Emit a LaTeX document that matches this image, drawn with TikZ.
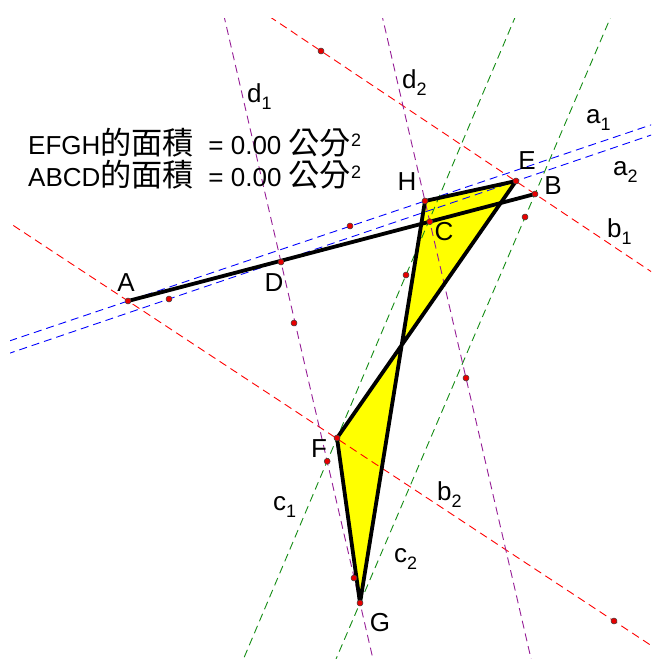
\documentclass[tikz,border=0pt]{standalone}
\usepackage{fontspec}
\setmainfont{Liberation Sans}
\newfontfamily\cjkfont[Scale=1.2]{Noto Sans CJK TC}
\usepackage{tikz}
\usetikzlibrary{calc}
\newcommand{\upidx}[1]{\raisebox{7.5pt}{\fontsize{18}{18}\selectfont #1}}
\newcommand{\lowidx}[1]{\raisebox{-7pt}{\fontsize{18}{18}\selectfont #1}}
\definecolor{geoRed}{RGB}{255,0,0}
\definecolor{geoBlue}{RGB}{0,0,255}
\definecolor{geoGreen}{RGB}{20,140,20}
\definecolor{geoPurple}{RGB}{150,30,150}
\definecolor{geoYellow}{RGB}{255,255,0}
\definecolor{geoDot}{RGB}{230,0,0}
\tikzset{
  auxline/.style={line width=0.9pt, dash pattern=on 8pt off 5pt},
  aline/.style={auxline, draw=geoBlue},
  bline/.style={auxline, draw=geoRed},
  cline/.style={auxline, draw=geoGreen},
  dline/.style={auxline, draw=geoPurple},
  sideline/.style={draw=black, line width=3.8pt, line join=round, line cap=round},
  quadfill/.style={fill=geoYellow},
  ptdot/.style={circle, fill=geoDot, draw=black!75, line width=0.5pt, inner sep=0pt,
    minimum size=6pt},
  ptlabel/.style={font=\fontsize{26}{30}\selectfont, inner sep=0pt},
  linelabel/.style={font=\fontsize{26}{30}\selectfont, inner sep=0pt, anchor=base west},
  areatext/.style={anchor=base west, align=left, inner sep=0pt,
    font=\fontsize{26}{32}\selectfont},
}

\begin{document}
\begin{tikzpicture}[x=1pt, y=-1pt]
  \useasboundingbox (0,0) rectangle (653,659);

  \coordinate (A) at (128,301);
  \coordinate (B) at (535,194);
  \coordinate (D) at (281,262);
  \coordinate (E) at (516,181);
  \coordinate (F) at (337,438);
  \coordinate (G) at (360,603);
  \coordinate (H) at (425,201);
  \coordinate (p1) at (321,51);
  \coordinate (p2) at (350,226);
  \coordinate (p3) at (169,299);
  \coordinate (p4) at (406,275);
  \coordinate (p5) at (294,323);
  \coordinate (p6) at (466,378);
  \coordinate (p7) at (525,217);
  \coordinate (p9) at (354,578);
  \coordinate (p10) at (614,621);
  \coordinate (C) at (intersection of A--B and H--p6);
  \coordinate (p8) at (intersection of F--p4 and D--G);

  \fill[quadfill] (E) -- (F) -- (G) -- (H) -- cycle;

  \begin{scope}
    \clip (10,18) rectangle (651,658);
    \draw[aline] ($(A)!-6!(H)$) -- ($(A)!6!(H)$);
    \draw[aline] ($(p3)!-6!(E)$) -- ($(p3)!6!(E)$);
    \draw[bline] ($(p1)!-6!(B)$) -- ($(p1)!6!(B)$);
    \draw[bline] ($(A)!-6!(p10)$) -- ($(A)!6!(p10)$);
    \draw[cline] ($(p4)!-6!(F)$) -- ($(p4)!6!(F)$);
    \draw[cline] ($(B)!-6!(G)$) -- ($(B)!6!(G)$);
    \draw[dline] ($(D)!-6!(G)$) -- ($(D)!6!(G)$);
    \draw[dline] ($(H)!-6!(p6)$) -- ($(H)!6!(p6)$);
  \end{scope}

  \draw[sideline] (E) -- (F) -- (G) -- (H) -- cycle;
  \draw[sideline] (A) -- (B);

  \foreach \p in {A,B,C,D,E,F,G,H,p1,p2,p3,p4,p5,p6,p7,p8,p9,p10}
    \node[ptdot] (dot\p) at (\p) {};

  \node[ptlabel] (labA) at (126,283) {A};
  \node[ptlabel] (labB) at (553,186) {B};
  \node[ptlabel] (labC) at (444,232) {C};
  \node[ptlabel] (labD) at (274,283) {D};
  \node[ptlabel] (labE) at (527,161) {E};
  \node[ptlabel] (labF) at (319,449) {F};
  \node[ptlabel] (labG) at (380,623) {G};
  \node[ptlabel] (labH) at (407,182) {H};

  \node[linelabel] (laba1) at (586,123) {a\lowidx{1}};
  \node[linelabel] (laba2) at (613,175) {a\lowidx{2}};
  \node[linelabel] (labb1) at (607,237) {b\lowidx{1}};
  \node[linelabel] (labb2) at (437,500) {b\lowidx{2}};
  \node[linelabel] (labc1) at (273,510) {c\lowidx{1}};
  \node[linelabel] (labc2) at (394,562) {c\lowidx{2}};
  \node[linelabel] (labd1) at (247,102) {d\lowidx{1}};
  \node[linelabel] (labd2) at (402,88) {d\lowidx{2}};

  \node[areatext] (area) at (28,186)
    {EFGH{\cjkfont 的面積}\ \ = 0.00 {\cjkfont 公分}\upidx{2}\\
     ABCD{\cjkfont 的面積}\ \ = 0.00 {\cjkfont 公分}\upidx{2}};
\end{tikzpicture}
\end{document}
